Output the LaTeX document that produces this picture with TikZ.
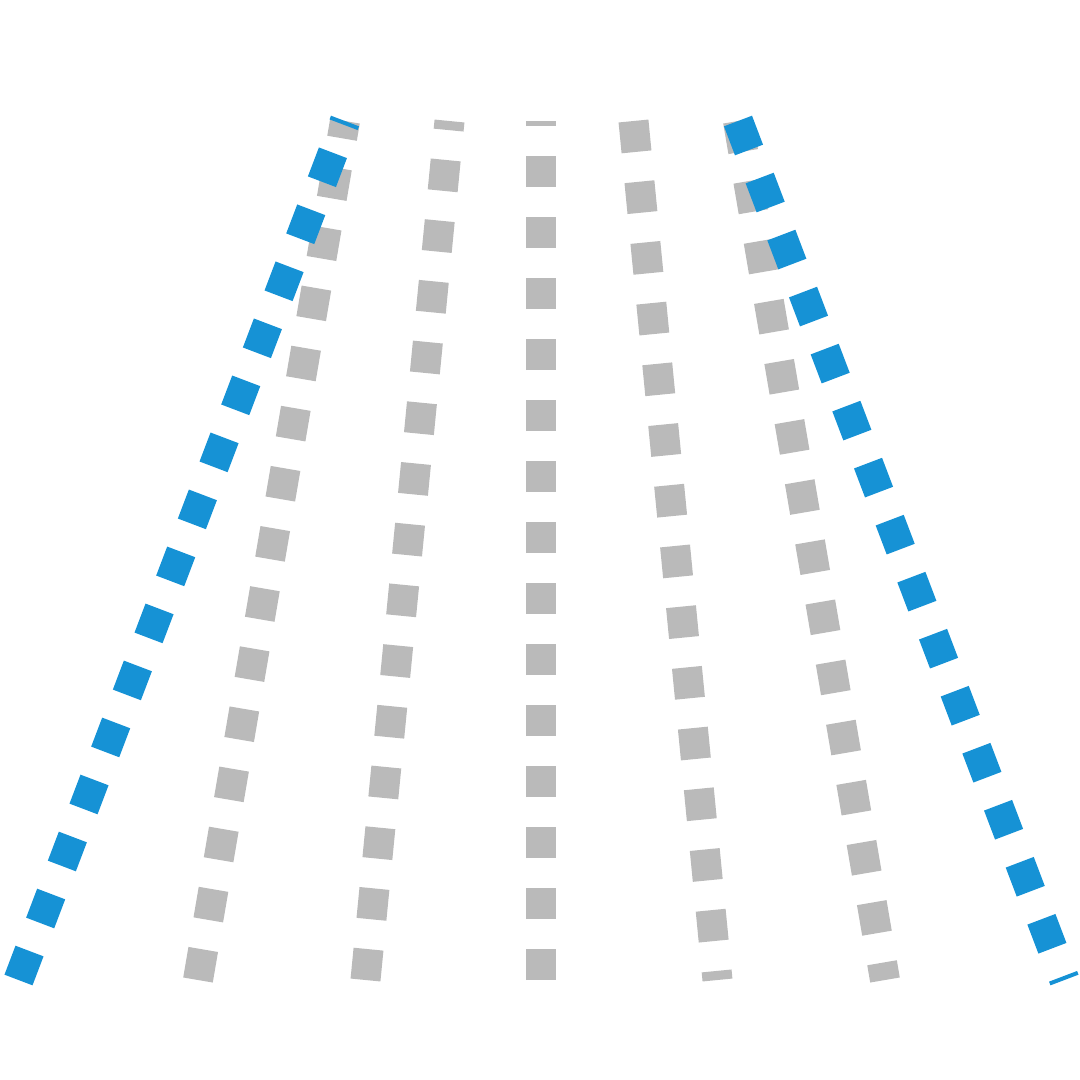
\documentclass[tikz,border=0pt]{standalone}
\usepackage{tikz}
\usepackage{xcolor}
\definecolor{lanegray}{RGB}{186,186,186}
\definecolor{laneblue}{RGB}{22,146,213}

\begin{document}
\begin{tikzpicture}[x=0.1mm,y=-0.1mm,
  lane/.style={line width=3mm,dash pattern=on 3.1mm off 3mm},
  greylane/.style={lane,draw=lanegray},
  bluelane/.style={lane,draw=laneblue}]
 \pgfmathsetmacro{\cx}{541.5}
 \pgfmathsetmacro{\ytop}{121}
 \pgfmathsetmacro{\ybot}{980}
 \useasboundingbox (0,0) rectangle (1080,1080);

 % ends of the lanes
 \coordinate (Tc) at (\cx,\ytop);      \coordinate (Bc) at (\cx,\ybot);
 \coordinate (Tl1) at (\cx-92,\ytop);  \coordinate (Bl1) at (\cx-176,\ybot);
 \coordinate (Tr1) at (\cx+92,\ytop);  \coordinate (Br1) at (\cx+176,\ybot);
 \coordinate (Tl2) at (\cx-196.5,\ytop); \coordinate (Bl2) at (\cx-343.5,\ybot);
 \coordinate (Tr2) at (\cx+196.5,\ytop); \coordinate (Br2) at (\cx+343.5,\ybot);
 \coordinate (Bl3) at (\cx-523,\ybot);
 \coordinate (Br3) at (\cx+523,\ybot);

 % grey lanes (left ones and the middle one start at the bottom)
 \draw[greylane] (Bc) -- (Tc);
 \draw[greylane] (Bl1) -- (Tl1);
 \draw[greylane] (Bl2) -- (Tl2);
 \draw[greylane] (Tr1) -- (Br1);
 \draw[greylane] (Tr2) -- (Br2);

 % blue lanes on top
 \draw[bluelane] (Bl3) -- (Tl2);
 \draw[bluelane] (Tr2) -- (Br3);
\end{tikzpicture}
\end{document}
